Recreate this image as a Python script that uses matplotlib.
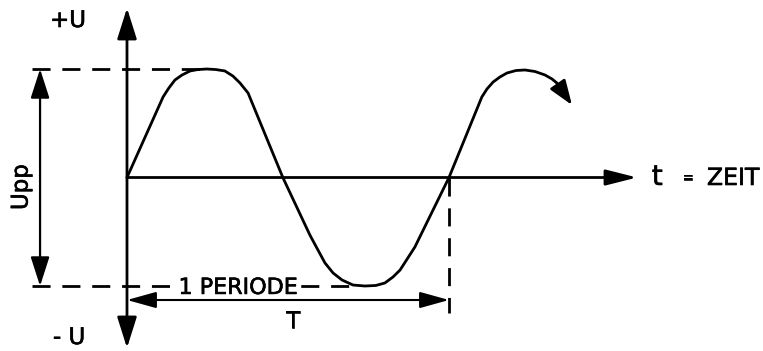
import matplotlib
matplotlib.use("Agg")
import matplotlib.pyplot as plt
import matplotlib.patheffects as pe
import numpy as np

# traced waveform: time in periods, voltage in units of the peak value
WAVE_T = [0.000, 0.112, 0.130, 0.149, 0.171, 0.196, 0.220, 0.248, 0.276, 0.304,
          0.329, 0.351, 0.376, 0.484, 0.568, 0.593, 0.615, 0.640, 0.668, 0.702,
          0.739, 0.773, 0.801, 0.826, 0.848, 0.894, 1.000, 1.102, 1.118, 1.137,
          1.158, 1.180, 1.208, 1.236, 1.267, 1.298, 1.320, 1.335]
WAVE_U = [0.000, 0.742, 0.825, 0.899, 0.945, 0.982, 0.995, 1.000, 0.995, 0.982,
          0.935, 0.871, 0.779, 0.000, -0.530, -0.668, -0.788, -0.880, -0.945, -0.991,
          -1.000, -0.995, -0.972, -0.917, -0.853, -0.641, 0.000, 0.742, 0.816, 0.880,
          0.926, 0.963, 0.986, 0.991, 0.977, 0.945, 0.908, 0.871]
WAVE_TIP = (1.382, 0.668)     # end of the curved arrow

U_PEAK = 1.0
U_TROUGH = -1.0
PERIOD = 1.0

LABEL_POS = "+U"
LABEL_NEG = "- U"
LABEL_UPP = "Upp"
LABEL_PERIOD = "1 PERIODE"
LABEL_T = "T"

plt.rcParams["font.family"] = ["DejaVu Sans"]
plt.rcParams["lines.scale_dashes"] = False

fig = plt.figure(figsize=(7.63, 3.51), dpi=100)
ax = fig.add_axes([0, 0, 1, 1])
ax.set_xlim(-0.3944, 1.9752)
ax.set_ylim(-1.599, 1.636)
ax.axis("off")

DASH = (0, (13, 8.5))
K = "black"
# slightly heavier lettering, like the drawn template letters
THICK = [pe.withStroke(linewidth=0.45, foreground=K)]


def arrow(p0, p1, style, lw, hl, hw):
    ax.annotate("", xy=p1, xytext=p0,
                arrowprops=dict(arrowstyle=f"{style},head_length={hl},head_width={hw}",
                                color=K, lw=lw, shrinkA=0, shrinkB=0,
                                mutation_scale=1))


def label(x, y, s, **kw):
    ax.text(x, y, s, color=K, path_effects=THICK, **kw)


# axes
arrow((0, -1.571), (0, 1.562), "<|-|>", 2.0, 19, 6)
arrow((0, 0), (1.584, 0), "-|>", 2.0, 19, 4.8)

# waveform with arrow at the end
ax.plot(WAVE_T, WAVE_U, color=K, lw=2.0, solid_joinstyle="round",
        solid_capstyle="round")
arrow((WAVE_T[-1], WAVE_U[-1]), WAVE_TIP, "-|>", 2.0, 15, 5.5)

# dashed helper lines
ax.plot([-0.295, 0.248], [U_PEAK, U_PEAK], color=K, lw=2.0, linestyle=DASH)
ax.plot([-0.295, 0.708], [U_TROUGH, U_TROUGH], color=K, lw=2.0, linestyle=DASH)
ax.plot([PERIOD, PERIOD], [0, -1.249], color=K, lw=2.0, linestyle=DASH)

# Upp dimension
arrow((-0.270, U_TROUGH), (-0.270, U_PEAK), "<|-|>", 1.6, 18, 5.8)
label(-0.329, -0.088, LABEL_UPP, rotation=90, ha="center", va="center",
      fontsize=16.5)

# period dimension
arrow((0, -1.129), (PERIOD, -1.129), "<|-|>", 1.5, 18, 5)
label(0.345, -1.073, LABEL_PERIOD, ha="center", va="baseline", fontsize=16,
      bbox=dict(facecolor="white", edgecolor="none", pad=0.2))
label(0.516, -1.387, LABEL_T, ha="center", va="baseline", fontsize=16.5)

# axis labels
label(-0.239, 1.387, LABEL_POS, ha="left", va="baseline", fontsize=16.5)
label(-0.230, -1.535, LABEL_NEG, ha="left", va="baseline", fontsize=16.5)
label(1.630, -0.069, "t", ha="left", va="baseline", fontsize=20)
label(1.724, 0.0, "=", ha="left", va="center", fontsize=10, fontweight="bold")
label(1.801, -0.069, "ZEIT", ha="left", va="baseline", fontsize=17)

fig.savefig("out.png", dpi=100)
